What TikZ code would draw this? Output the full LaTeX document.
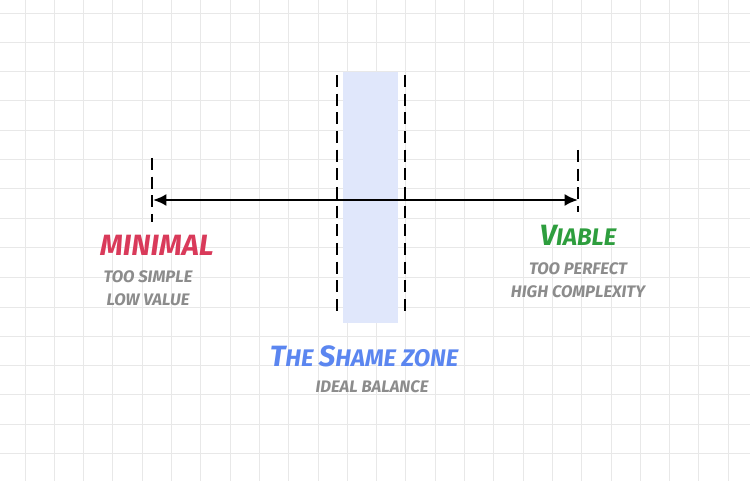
\documentclass[tikz,border=0pt]{standalone}
\usepackage{fontspec}
\setmainfont{Fira Sans}
\usetikzlibrary{arrows.meta}
\definecolor{minred}{HTML}{D93A5A}
\definecolor{viagreen}{HTML}{2E9E3E}
\definecolor{zblue}{HTML}{5B86F0}
\definecolor{zfill}{HTML}{E0E7FB}
\definecolor{gridc}{HTML}{E8E8E8}
\begin{document}
\begin{tikzpicture}[x=0.75pt,y=-0.75pt,
  gridl/.style={draw=gridc,line width=0.75pt},
  dashln/.style={draw=black,line width=2.2pt,dash pattern=on 9pt off 5pt},
  big/.style={font=\fontsize{22}{26}\selectfont\bfseries\itshape},
  sub/.style={font=\fontsize{12.5}{17}\selectfont\bfseries\itshape,text=black!45,align=center}]
\useasboundingbox (0,0) rectangle (750,481);
\fill[white] (0,0) rectangle (750,481);
\foreach \i in {0,...,25} {\draw[gridl] ({round(24.5+29.3*\i)},0) -- ({round(24.5+29.3*\i)},481);}
\foreach \j in {0,...,16} {\draw[gridl] (0,{round(13.5+29.3*\j)}) -- (750,{round(13.5+29.3*\j)});}
\fill[zfill] (343,72) rectangle (398,323);
\draw[dashln] (337,75) -- (337,316);
\draw[dashln] (405,75) -- (405,316);
\coordinate (lt) at (152,158); \coordinate (lb) at (152,222);
\coordinate (rt) at (578,150); \coordinate (rb) at (578,212);
\draw[dashln] (lt) -- (lb);
\draw[dashln] (rt) -- (rb);
\coordinate (la) at (153,200); \coordinate (ra) at (578,200);
\draw[line width=1.8pt,{Latex[length=10pt,width=9pt]}-{Latex[length=10pt,width=9pt]}] (la) -- (ra);
\node[big,text=minred] (min) at (157,245) {MINIMAL};
\node[sub] (mins) at (148,288) {TOO SIMPLE\\LOW VALUE};
\node[big,text=viagreen] (via) at (578,235) {V\fontsize{18}{22}\selectfont IABLE};
\node[sub] (vias) at (578,280) {TOO PERFECT\\HIGH COMPLEXITY};
\node[big,text=zblue] (sz) at (364,356) {T\fontsize{18}{22}\selectfont HE \fontsize{22}{26}\selectfont S\fontsize{18}{22}\selectfont HAME ZONE};
\node[sub] (szs) at (372,387) {IDEAL BALANCE};
\end{tikzpicture}
\end{document}
